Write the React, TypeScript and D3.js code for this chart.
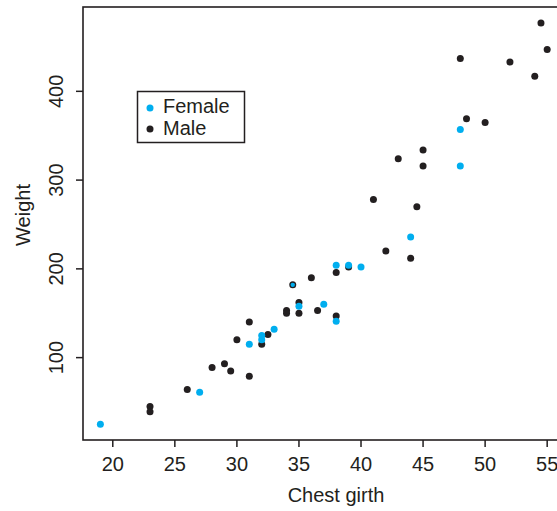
import React from "react";
import * as d3 from "d3";

const femaleGirth = [19, 27, 31, 32, 32, 33, 35, 37, 38, 38, 39, 40, 44, 48, 48];
const femaleWeight = [25, 61, 115, 120, 125, 132, 158, 160, 204, 141, 204, 202, 236, 357, 316];

const maleGirth = [23, 23, 26, 28, 29, 29.5, 31, 30, 31, 32, 32.5, 34, 34, 34.5, 36, 35, 35, 36.5, 38, 39, 42, 44, 38, 41, 44.5, 54.5, 55, 48, 52, 54, 48.5, 50, 45, 43, 45];
const maleWeight = [45, 39, 64, 89, 93, 85, 79, 120, 140, 115, 126, 153, 150, 182, 190, 162, 150, 153, 196, 202, 220, 212, 147, 278, 270, 477, 447, 437, 433, 417, 369, 365, 334, 324, 316];

// overlapping point: female drawn small inside male
const overlapGirth = [34.5];
const overlapWeight = [182];

const xTicks = [20, 25, 30, 35, 40, 45, 50, 55];
const yTicks = [100, 200, 300, 400];

const W = 557;
const H = 511;
const left = 83;
const top = 7;
const bottom = 440;
const right = 572;

const FEMALE = "#00aeef";
const MALE = "#231f20";
const FONT = "'Liberation Sans', Arial, Helvetica, sans-serif";

export default function App() {
  const x = d3.scaleLinear().domain([17.6, 57]).range([left, right]);
  const y = d3.scaleLinear().domain([7.2, 495]).range([bottom, top]);
  const r = 3.5;

  return (
    <svg
      width={W}
      height={H}
      style={{ position: "absolute", left: 0, top: 0, background: "#fff" }}
      fontFamily={FONT}
    >
      <rect x={0} y={0} width={W} height={H} fill="#fff" />
      {/* frame */}
      <rect
        x={left}
        y={top}
        width={right - left}
        height={bottom - top}
        fill="none"
        stroke={MALE}
        strokeWidth={1.6}
      />
      {/* x ticks */}
      {xTicks.map((t) => (
        <g key={"x" + t}>
          <line x1={x(t)} x2={x(t)} y1={bottom} y2={bottom + 7} stroke={MALE} strokeWidth={1.5} />
          <text x={x(t)} y={471} textAnchor="middle" fontSize={20} fill={MALE}>
            {t}
          </text>
        </g>
      ))}
      {/* y ticks */}
      {yTicks.map((t) => (
        <g key={"y" + t}>
          <line x1={left} x2={left - 7} y1={y(t)} y2={y(t)} stroke={MALE} strokeWidth={1.5} />
          <text
            transform={`translate(63,${y(t)}) rotate(-90)`}
            textAnchor="middle"
            fontSize={20}
            fill={MALE}
          >
            {t}
          </text>
        </g>
      ))}
      <text x={(left + 557) / 2 + 16} y={502} textAnchor="middle" fontSize={20} fill={MALE}>
        Chest girth
      </text>
      <text
        transform={`translate(30,215) rotate(-90)`}
        textAnchor="middle"
        fontSize={20}
        fill={MALE}
      >
        Weight
      </text>
      {/* points */}
      {maleGirth.map((g, i) => (
        <circle key={"m" + i} cx={x(g)} cy={y(maleWeight[i])} r={r} fill={MALE} />
      ))}
      {femaleGirth.map((g, i) => (
        <circle key={"f" + i} cx={x(g)} cy={y(femaleWeight[i])} r={r} fill={FEMALE} />
      ))}
      {overlapGirth.map((g, i) => (
        <circle key={"o" + i} cx={x(g)} cy={y(overlapWeight[i])} r={2.2} fill={FEMALE} />
      ))}
      {/* legend */}
      <rect x={137.5} y={91.5} width={107} height={51} fill="#fff" stroke={MALE} strokeWidth={1.5} />
      <circle cx={150} cy={108} r={r} fill={FEMALE} />
      <circle cx={150} cy={129} r={r} fill={MALE} />
      <text x={163} y={113} fontSize={20} fill={MALE}>
        Female
      </text>
      <text x={163} y={135} fontSize={20} fill={MALE}>
        Male
      </text>
    </svg>
  );
}
